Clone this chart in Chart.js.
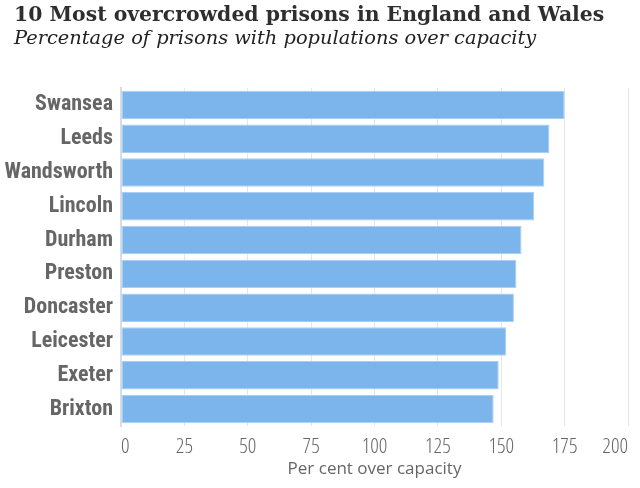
<!DOCTYPE html>
<html>
<head>
<meta charset="utf-8">
<script src="https://cdn.jsdelivr.net/npm/chart.js@4"></script>
<style>
html,body{margin:0;padding:0;background:#fff;}
#wrap{width:640px;height:488px;position:relative;overflow:hidden;}
#title{position:absolute;left:14px;top:2px;margin:0;font:bold 20.4px/24px 'DejaVu Serif';color:#2e2e2e;white-space:nowrap;}
#subtitle{position:absolute;left:14px;top:26px;margin:0;font:italic 19.4px/24px 'DejaVu Serif';color:#222;white-space:nowrap;}
canvas{position:absolute;left:0;top:0;}
</style>
</head>
<body>
<div id="wrap">
<canvas id="c" width="640" height="488"></canvas>
<div id="title">10 Most overcrowded prisons in England and Wales</div>
<div id="subtitle">Percentage of prisons with populations over capacity</div>
</div>
<script>
const prisons = ["Swansea","Leeds","Wandsworth","Lincoln","Durham","Preston","Doncaster","Leicester","Exeter","Brixton"];
const overCapacity = [175, 169, 167, 163, 158, 156, 155, 152, 149, 147];
const xTicks = [0, 25, 50, 75, 100, 125, 150, 175, 200];
const xTitle = "Per cent over capacity";

new Chart(document.getElementById('c'), {
  type: 'bar',
  data: {
    labels: prisons,
    datasets: [{
      data: overCapacity,
      backgroundColor: '#7cb5ec',
      borderColor: '#a8cff3',
      borderWidth: 1,
      borderSkipped: false,
      categoryPercentage: 0.84,
      barPercentage: 1
    }]
  },
  options: {
    indexAxis: 'y',
    responsive: false,
    animation: false,
    devicePixelRatio: 1,
    layout: { padding: { left: 0, right: 12, top: 88, bottom: 0 } },
    plugins: {
      legend: { display: false },
      tooltip: { enabled: false }
    },
    scales: {
      x: {
        min: 0, max: 200,
        afterBuildTicks: (s) => { s.ticks = xTicks.map(v => ({ value: v })); },
        afterFit: (s) => { s.height = 62; s.paddingRight = 0; s.paddingLeft = 0; },
        grid: { color: '#e6e6e6', lineWidth: 1, drawTicks: false },
        border: { display: false },
        ticks: { color: '#666', padding: 8, align: 'inner',
                 font: { family: "'Open Sans'", weight: '300 condensed', size: 21 } },
        title: { display: true, text: xTitle, color: '#666', padding: { top: 0, bottom: 9 },
                 font: { family: "'Open Sans'", weight: 'normal', size: 17 } }
      },
      y: {
        afterFit: (s) => { s.width = 121; },
        grid: { display: false, drawTicks: false },
        border: { display: true, color: '#d5dcea', width: 2 },
        ticks: { color: '#666', padding: 8,
                 font: { family: "'Roboto Condensed'", weight: 'bold', size: 22 } }
      }
    }
  }
});
</script>
</body>
</html>
